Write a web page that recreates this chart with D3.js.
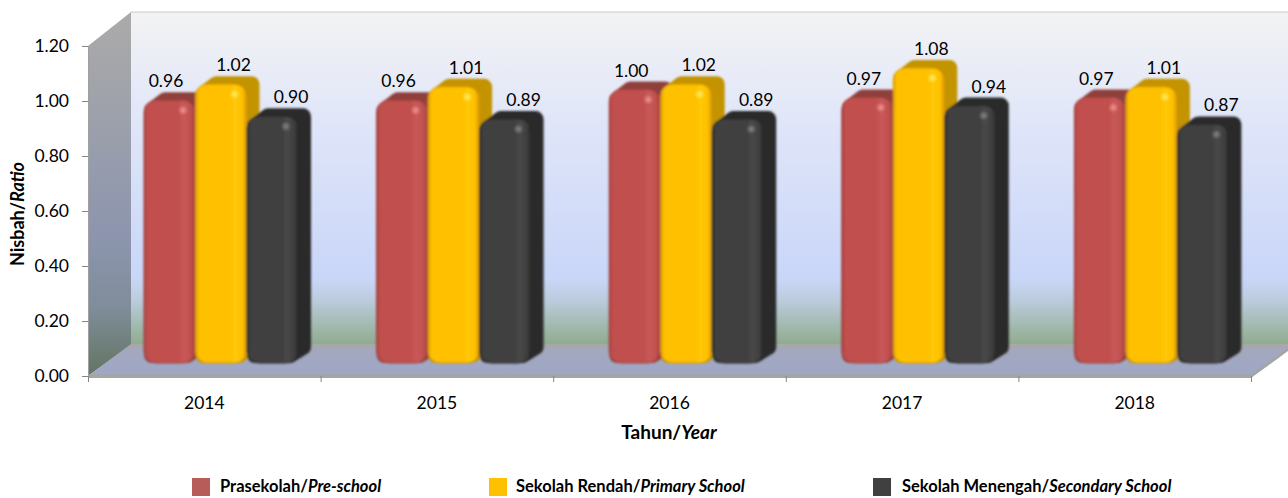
<!DOCTYPE html>
<html>
<head>
<meta charset="utf-8">
<script src="https://cdn.jsdelivr.net/npm/d3@7"></script>
<style>
  html, body { margin: 0; padding: 0; background: #fff; }
  svg { display: block; }
  text { font-family: Lato, "Open Sans", sans-serif; fill: #000; }
</style>
</head>
<body>
<div id="chart"></div>
<script>
const years = ["2014", "2015", "2016", "2017", "2018"];
const prasekolah = [0.96, 0.96, 1.0, 0.97, 0.97];
const sekolahRendah = [1.02, 1.01, 1.02, 1.08, 1.01];
const sekolahMenengah = [0.9, 0.89, 0.89, 0.94, 0.87];
const yTicks = [0, 0.2, 0.4, 0.6, 0.8, 1.0, 1.2];

const seriesNames = [
  ["Prasekolah/", "Pre-school"],
  ["Sekolah Rendah/", "Primary School"],
  ["Sekolah Menengah/", "Secondary School"]
];
const seriesValues = [prasekolah, sekolahRendah, sekolahMenengah];

const w = 1288;
const h = 498;
const depth = 13;

const palette = [
  { id: "red", edge: "#a5403e", main: "#c0504d", light: "#c9595a", back: "#8f403e", spot: "#f59a98", swatch: "#b85c5a" },
  { id: "yellow", edge: "#d99a00", main: "#ffc000", light: "#ffc808", back: "#c39300", spot: "#fff36a", swatch: "#ffc000" },
  { id: "black", edge: "#2a2a2a", main: "#404040", light: "#484848", back: "#2c2c2c", spot: "#8a8a8a", swatch: "#404040" }
];

const svg = d3.select("#chart").append("svg").attr("width", w).attr("height", h);
const defs = svg.append("defs");

function addGradient(id, stops, horizontal, y1, y2) {
  const g = defs.append("linearGradient").attr("id", id);
  if (horizontal) {
    g.attr("x1", "0").attr("x2", "1").attr("y1", "0").attr("y2", "0");
  } else {
    g.attr("gradientUnits", "userSpaceOnUse").attr("x1", 0).attr("x2", 0).attr("y1", y1).attr("y2", y2);
  }
  stops.forEach((s) => g.append("stop").attr("offset", s[0]).attr("stop-color", s[1]));
}

addGradient("wallBack", [[0, "#f3f3f4"], [0.35, "#dfe5f9"], [0.8, "#c9d6f8"], [0.86, "#bdcddf"], [1, "#8fab8e"]], false, 12, 345);
addGradient("wallLeft", [[0, "#a9a9a9"], [0.6, "#8c95ae"], [0.8, "#808d9a"], [1, "#627462"]], false, 30, 376);
addGradient("floor", [[0, "#a8a8a8"], [0.2, "#a3a8bd"], [1, "#9fa7c8"]], false, 344, 376);

palette.forEach((p) => {
  addGradient("front-" + p.id, [[0, p.edge], [0.06, p.main], [0.68, p.main], [0.78, p.light], [0.92, p.main], [1, p.edge]], true);
  const r = defs.append("radialGradient").attr("id", "spot-" + p.id);
  r.append("stop").attr("offset", 0).attr("stop-color", p.spot);
  r.append("stop").attr("offset", 1).attr("stop-color", p.spot).attr("stop-opacity", 0);
});

defs.append("filter").attr("id", "soft").append("feGaussianBlur").attr("stdDeviation", 0.8);

// scales: axis plane at the front of the box, bars stand a bit further back
const x = d3.scaleBand().domain(years).range([88, 1251]);
const xEdges = d3.scaleLinear().domain([0, years.length]).range([88, 1251]);
const y = d3.scaleLinear().domain([0, 1.2]).range([376, 46]);
const yBar = d3.scaleLinear().domain([0, 1.2]).range([363, 40.8]);
const xInner = d3.scaleBand().domain([0, 1, 2]).range([0, 154.5]);
const barLeft = 56;

// 3d box
svg.append("rect").attr("x", 131).attr("y", 12).attr("width", w - 131).attr("height", 333).attr("fill", "url(#wallBack)");
svg.append("line").attr("x1", 131).attr("x2", w).attr("y1", 12).attr("y2", 12).attr("stroke", "#c8c8c8").attr("stroke-width", 1);
svg.append("polygon").attr("points", "88,46 131,12 131,345 88,376").attr("fill", "url(#wallLeft)");
svg.append("polygon").attr("points", "88,376 131,344 1288,344 1288,350 1251,376").attr("fill", "url(#floor)");
svg.append("polygon").attr("points", "88,374 1251,374 1288,348 1288,351 1251,378 88,378").attr("fill", "#a3a6a6");

// bars
const r = 8;
const groups = svg.append("g").attr("filter", "url(#soft)");
years.forEach((year, i) => {
  seriesValues.forEach((values, s) => {
    const p = palette[s];
    const x0 = x(year) + barLeft + xInner(s);
    const x1 = x0 + xInner.bandwidth() - 0.5;
    const yv = yBar(values[i]);
    const top = yv - depth;
    const base = yBar(0);
    const outline = [
      [x0 + r, yv + r - 3],
      [x0 + depth + r, top + r],
      [x1 + depth - r, top + r],
      [x1 + depth - r, base - depth - 3],
      [x1 - r, base - r],
      [x0 + r, base - r]
    ];
    groups.append("polygon")
      .attr("points", outline.join(" "))
      .attr("fill", p.back)
      .attr("stroke", p.back)
      .attr("stroke-width", r * 2)
      .attr("stroke-linejoin", "round");
    groups.append("rect")
      .attr("x", x0)
      .attr("y", yv - 5)
      .attr("width", x1 - x0)
      .attr("height", base - yv + 5)
      .attr("rx", 12)
      .attr("fill", "url(#front-" + p.id + ")")
      .attr("stroke", p.edge)
      .attr("stroke-width", 1);
    groups.append("circle")
      .attr("cx", x1 - 12)
      .attr("cy", top + 18)
      .attr("r", 5)
      .attr("fill", "url(#spot-" + p.id + ")");
  });
});

// value labels
const labelShift = [22, 38, 44];
years.forEach((year, i) => {
  seriesValues.forEach((values, s) => {
    svg.append("text")
      .attr("x", x(year) + barLeft + xInner(s) + labelShift[s])
      .attr("y", yBar(values[i]) - depth - 5)
      .attr("text-anchor", "middle")
      .attr("font-size", 17.5)
      .text(d3.format(".2f")(values[i]));
  });
});

// axes
const yAxis = svg.append("g").attr("transform", "translate(88,0)")
  .call(d3.axisLeft(y).tickValues(yTicks).tickFormat(d3.format(".2f")).tickSize(6).tickPadding(13));
const xLabels = svg.append("g").attr("transform", "translate(0,378)")
  .call(d3.axisBottom(x).tickSize(0).tickPadding(19));
const xTicks = svg.append("g").attr("transform", "translate(0,376)")
  .call(d3.axisBottom(xEdges).tickValues(d3.range(years.length + 1)).tickFormat("").tickSize(6));

[yAxis, xLabels].forEach((a) => a.selectAll("text").attr("font-size", 17.5).style("font-family", null));
yAxis.select(".domain").attr("stroke", "#a0a0a0");
xLabels.select(".domain").remove();
xTicks.select(".domain").remove();
yAxis.selectAll("line").attr("stroke", "#868686");
xTicks.selectAll("line").attr("stroke", "#868686");

// axis titles
function mixedTitle(sel, parts) {
  sel.attr("font-weight", 700);
  sel.append("tspan").text(parts[0]);
  sel.append("tspan").attr("font-style", "italic").text(parts[1]);
}

mixedTitle(svg.append("text").attr("x", 669).attr("y", 439).attr("text-anchor", "middle").attr("font-size", 19), ["Tahun/", "Year"]);
mixedTitle(
  svg.append("text").attr("transform", "translate(24,214) rotate(-90)").attr("text-anchor", "middle").attr("font-size", 18),
  ["Nisbah/", "Ratio"]
);

// legend
const legendX = [192, 489, 873];
const legendTextX = [220, 516, 902];
seriesNames.forEach((name, s) => {
  svg.append("rect").attr("x", legendX[s]).attr("y", 478).attr("width", 18).attr("height", 18).attr("fill", palette[s].swatch);
  mixedTitle(svg.append("text").attr("x", legendTextX[s]).attr("y", 492).attr("font-size", 16.5), name);
});
</script>
</body>
</html>
